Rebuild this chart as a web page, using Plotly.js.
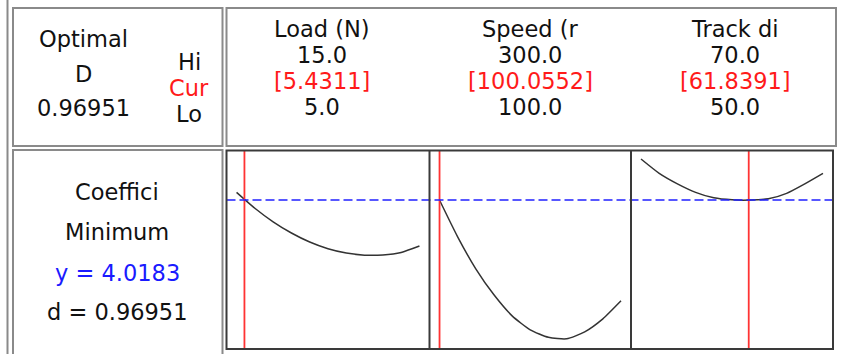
<!DOCTYPE html>
<html>
<head>
<meta charset="utf-8">
<script src="https://cdn.plot.ly/plotly-3.0.1.min.js"></script>
<style>html,body{margin:0;padding:0;background:#fff;}#chart{width:848px;height:354px;}</style>
</head>
<body>
<div id="chart"></div>
<script>
// ---- data ----
const factorNames = ['Load (N)', 'Speed (r', 'Track di'];
const hiLabels = ['15.0', '300.0', '70.0'];
const loLabels = ['5.0', '100.0', '50.0'];
const curValues = [5.4311, 100.0552, 61.8391];
const curLabels = ['[5.4311]', '[100.0552]', '[61.8391]'];
const optimalD = '0.96951';
const responseName = 'Coeffici';
const goal = 'Minimum';
const yOpt = 4.0183;
const dValue = '0.96951';

const loadX = [5, 6, 7, 8, 9, 10, 11, 12, 13, 14, 15];
const loadY = [4.095, 3.936, 3.800, 3.688, 3.598, 3.531, 3.488, 3.467, 3.469, 3.494, 3.558];
const speedX = [100, 120, 140, 160, 180, 200, 220, 240, 260, 280, 300];
const speedY = [4.018, 3.650, 3.330, 3.070, 2.860, 2.720, 2.645, 2.630, 2.700, 2.830, 3.010];
const trackX = [50, 52, 54, 56, 58, 60, 62, 64, 66, 68, 70];
const trackY = [4.428, 4.285, 4.180, 4.095, 4.040, 4.020, 4.018, 4.030, 4.085, 4.180, 4.285];

// ---- geometry helpers ----
const W = 848, H = 354;
const px = v => v / W;
const py = v => 1 - v / H;

const FONT = 'DejaVu Sans, Arial, sans-serif';
const FS = 22.5;
const black = '#111111';
const red = '#ff1a1a';
const blue = '#1a1aff';

const xRanges = [[4.45, 15.55], [89, 311], [48.9, 71.1]];
const panelEdges = [226.5, 429.5, 631, 833];

const curveColor = '#333333';
const traces = [
  {x: loadX, y: loadY, xaxis: 'x', yaxis: 'y'},
  {x: speedX, y: speedY, xaxis: 'x2', yaxis: 'y'},
  {x: trackX, y: trackY, xaxis: 'x3', yaxis: 'y'}
].map(t => Object.assign(t, {type: 'scatter', mode: 'lines', line: {color: curveColor, width: 1.5, shape: 'spline', smoothing: 0.6}, hoverinfo: 'skip', showlegend: false}));

const axBase = {showgrid: false, zeroline: false, showticklabels: false, ticks: '', showline: false, fixedrange: true};
const layout = {
  width: W, height: H,
  margin: {l: 0, r: 0, t: 0, b: 0},
  paper_bgcolor: '#ffffff', plot_bgcolor: 'rgba(0,0,0,0)',
  showlegend: false,
  yaxis: Object.assign({}, axBase, {domain: [py(349), py(150.5)], range: [2.5283, 4.5133], anchor: 'x'}),
  shapes: [], annotations: []
};
for (let i = 0; i < 3; i++) {
  const key = i === 0 ? 'xaxis' : 'xaxis' + (i + 1);
  layout[key] = Object.assign({}, axBase, {domain: [px(panelEdges[i]), px(panelEdges[i + 1])], range: xRanges[i], anchor: 'y'});
}

const gray = '#8a8a8a';
function rectPx(x0, y0, x1, y1, color, width) {
  layout.shapes.push({type: 'rect', xref: 'paper', yref: 'paper', x0: px(x0), x1: px(x1), y0: py(y1), y1: py(y0), line: {color: color, width: width}, fillcolor: 'rgba(0,0,0,0)', layer: 'above'});
}
function linePx(x0, y0, x1, y1, color, width) {
  layout.shapes.push({type: 'line', xref: 'paper', yref: 'paper', x0: px(x0), x1: px(x1), y0: py(y0), y1: py(y1), line: {color: color, width: width}, layer: 'above'});
}
// outer/info boxes
linePx(7.5, 0, 7.5, 354, gray, 2);
rectPx(13, 8, 222.5, 146, gray, 2);
rectPx(226.5, 8, 836, 146, gray, 2);
rectPx(13, 150, 222.5, 360, gray, 2);

// red current-setting lines (data coords on each x axis)
const xrefs = ['x', 'x2', 'x3'];
for (let i = 0; i < 3; i++) {
  layout.shapes.push({type: 'line', xref: xrefs[i], yref: 'paper', x0: curValues[i], x1: curValues[i], y0: py(349), y1: py(150.5), line: {color: '#ff3333', width: 1.8}, layer: 'above'});
}
// blue dashed optimum response line
layout.shapes.push({type: 'line', xref: 'paper', yref: 'y', x0: px(226.5), x1: px(833), y0: yOpt, y1: yOpt, line: {color: '#2020ff', width: 1.6, dash: '9px,4px'}, layer: 'above'});

// plot frame and dividers
rectPx(226.5, 150.5, 833, 349, '#3a3a3a', 2);
linePx(429.5, 150.5, 429.5, 349, '#3a3a3a', 2);
linePx(631, 150.5, 631, 349, '#3a3a3a', 2);

function text(s, x, y, color) {
  layout.annotations.push({text: s, xref: 'paper', yref: 'paper', x: px(x), y: py(y), xanchor: 'center', yanchor: 'middle', showarrow: false, font: {family: FONT, size: FS, color: color || black}});
}
// top-left box
text('Optimal', 83, 39);
text('D', 83, 74);
text(optimalD, 83, 108);
text('Hi', 189, 62);
text('Cur', 189, 88, red);
text('Lo', 189, 114);
// factor columns
const colX = [322, 530, 735];
for (let i = 0; i < 3; i++) {
  text(factorNames[i], colX[i], 29);
  text(hiLabels[i], colX[i], 55);
  text(curLabels[i], colX[i], 81, red);
  text(loLabels[i], colX[i], 107);
}
// response box
text(responseName, 117, 192);
text(goal, 117, 232);
text('y = ' + yOpt.toFixed(4), 117, 273, blue);
text('d = ' + dValue, 117, 312);

Plotly.newPlot('chart', traces, layout, {staticPlot: true, displayModeBar: false});
</script>
</body>
</html>
